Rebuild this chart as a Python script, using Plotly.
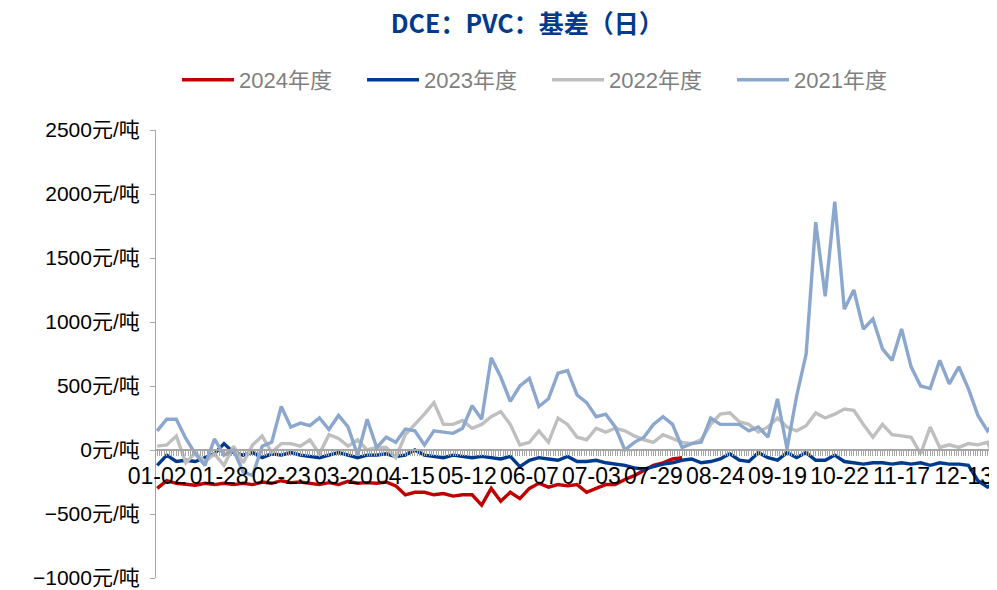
import pandas as pd
from plotly import graph_objects as go

# calendar categories of the x axis (leap year, May Day and National Day week missing)
skip_days = ["05-01", "10-01", "10-02", "10-03", "10-04", "10-05", "10-06", "10-07"]
DAYS = [d.strftime("%m-%d") for d in pd.date_range("2024-01-02", "2024-12-31", freq="D")
        if d.strftime("%m-%d") not in skip_days]
XLABELS = ["01-02", "01-28", "02-23", "03-20", "04-15", "05-12", "06-07",
           "07-03", "07-29", "08-24", "09-19", "10-22", "11-17", "12-13"]
# values read every 4th category
SAMPLE_DAYS = DAYS[::4]

y2024 = [-300, -240, -260, -270, -275, -260, -270, -260, -270, -260,
         -270, -250, -260, -240, -255, -250, -260, -270, -255, -270,
         -245, -260, -255, -260, -250, -280, -350, -330, -330, -350,
         -340, -360, -350, -350, -430, -300, -400, -330, -380, -300,
         -260, -290, -270, -280, -270, -330, -300, -270, -270, -230,
         -200, -160, -120, -100, -70, -60]
y2023 = [-120, -40, -90, -80, -90, -60, -30, 50, -20, -40,
         -20, -60, -30, -40, -20, -40, -50, -60, -40, -20,
         -40, -60, -40, -40, -30, -50, -40, 0, -40, -50,
         -60, -40, -50, -60, -50, -60, -70, -50, -130, -80,
         -60, -70, -80, -50, -90, -90, -80, -100, -110, -120,
         -140, -150, -130, -110, -100, -80, -70, -100, -90, -70,
         -30, -80, -90, -20, -60, -80, -20, -60, -20, -80,
         -80, -40, -90, -100, -110, -100, -100, -110, -100, -110,
         -100, -120, -100, -110, -110, -120, -240, -290, -250]
y2022 = [30, 40, 110, -100, -20, -90, -30, -120, 30, -100,
         40, 110, -20, 50, 50, 30, 80, -30, 120, 90,
         30, 80, 0, 20, 20, -60, 120, 200, 280, 370,
         200, 200, 230, 170, 200, 260, 300, 200, 40, 60,
         150, 60, 250, 200, 100, 80, 170, 140, 170, 150,
         110, 80, 60, 120, 90, 60, 50, 80, 200, 280,
         290, 220, 200, 140, 180, 250, 180, 150, 190, 290,
         250, 280, 320, 310, 200, 100, 200, 120, 110, 100,
         -30, 180, 20, 40, 20, 50, 40, 60, -110]
y2021 = [150, 240, 240, 90, -30, -120, 86, -40, 0, -172,
         -200, 30, 60, 340, 180, 210, 190, 250, 160, 270,
         180, -40, 240, 20, 100, 60, 164, 150, 40, 150,
         140, 130, 170, 346, 240, 720, 570, 380, 500, 560,
         340, 400, 600, 620, 430, 370, 260, 280, 180, 0,
         60, 100, 200, 260, 200, 20, 50, 60, 250, 200,
         200, 200, 150, 180, 100, 400, 10, 420, 750, 1780,
         1200, 1940, 1100, 1250, 945, 1023, 790, 700, 945, 650,
         500, 480, 700, 516, 650, 480, 270, 150, 242]

YMIN, YMAX = -1000, 2500

series = [("2024年度", y2024, "#C00000"),
          ("2023年度", y2023, "#003A8C"),
          ("2022年度", y2022, "#BFBFBF"),
          ("2021年度", y2021, "#8BA7CE")]

pos = {d: i for i, d in enumerate(DAYS)}
fig = go.Figure()
for name, vals, color in series:
    days = SAMPLE_DAYS[:len(vals)]
    fig.add_trace(go.Scatter(x=[pos[d] for d in days], y=vals, mode="lines", name=name,
                             text=days, hovertemplate="%{text}: %{y}<extra>" + name + "</extra>",
                             line=dict(color=color, width=3.4)))

font = "Liberation Sans, Noto Sans CJK SC, sans-serif"
# page body adds 8px around the figure, so the figure is 8px smaller than the window
fig.update_layout(
    width=989, height=582,
    margin=dict(l=148, r=0, t=122, b=12, autoexpand=False),
    paper_bgcolor="white", plot_bgcolor="white",
    font=dict(family=font, size=21, color="#000000"),
    title=dict(text="<b>DCE：PVC：基差（日）</b>", xref="container", yref="container",
               x=0.525, y=0.972, xanchor="center", yanchor="middle",
               font=dict(family="Noto Sans CJK SC", size=25, color="#003A8C")),
    legend=dict(orientation="h", x=0.025, xanchor="left", y=1.1116, yanchor="middle",
                itemwidth=52, entrywidth=118, entrywidthmode="pixels",
                font=dict(size=22, color="#7F7F7F")),
    showlegend=True,
)
fig.update_yaxes(range=[YMIN, YMAX], tick0=0, dtick=500, ticksuffix="元/吨",
                 showline=True, linecolor="#A6A6A6", linewidth=1,
                 ticks="outside", ticklen=5, tickcolor="#A6A6A6", ticklabelstandoff=6,
                 showgrid=False, zeroline=False)
fig.update_xaxes(range=[-0.5, 352], anchor="free", position=(0 - YMIN) / (YMAX - YMIN),
                 tickmode="array", tickvals=[pos[t] for t in XLABELS], ticktext=XLABELS,
                 tickfont=dict(size=23),
                 showline=True, linecolor="#A6A6A6", linewidth=1.5,
                 ticks="outside", ticklen=5, tickcolor="#A6A6A6", ticklabelstandoff=1,
                 minor=dict(tick0=0, dtick=1, ticks="outside", ticklen=5, tickcolor="#A6A6A6"),
                 showgrid=False, zeroline=False)

fig.write_html("out.html")
